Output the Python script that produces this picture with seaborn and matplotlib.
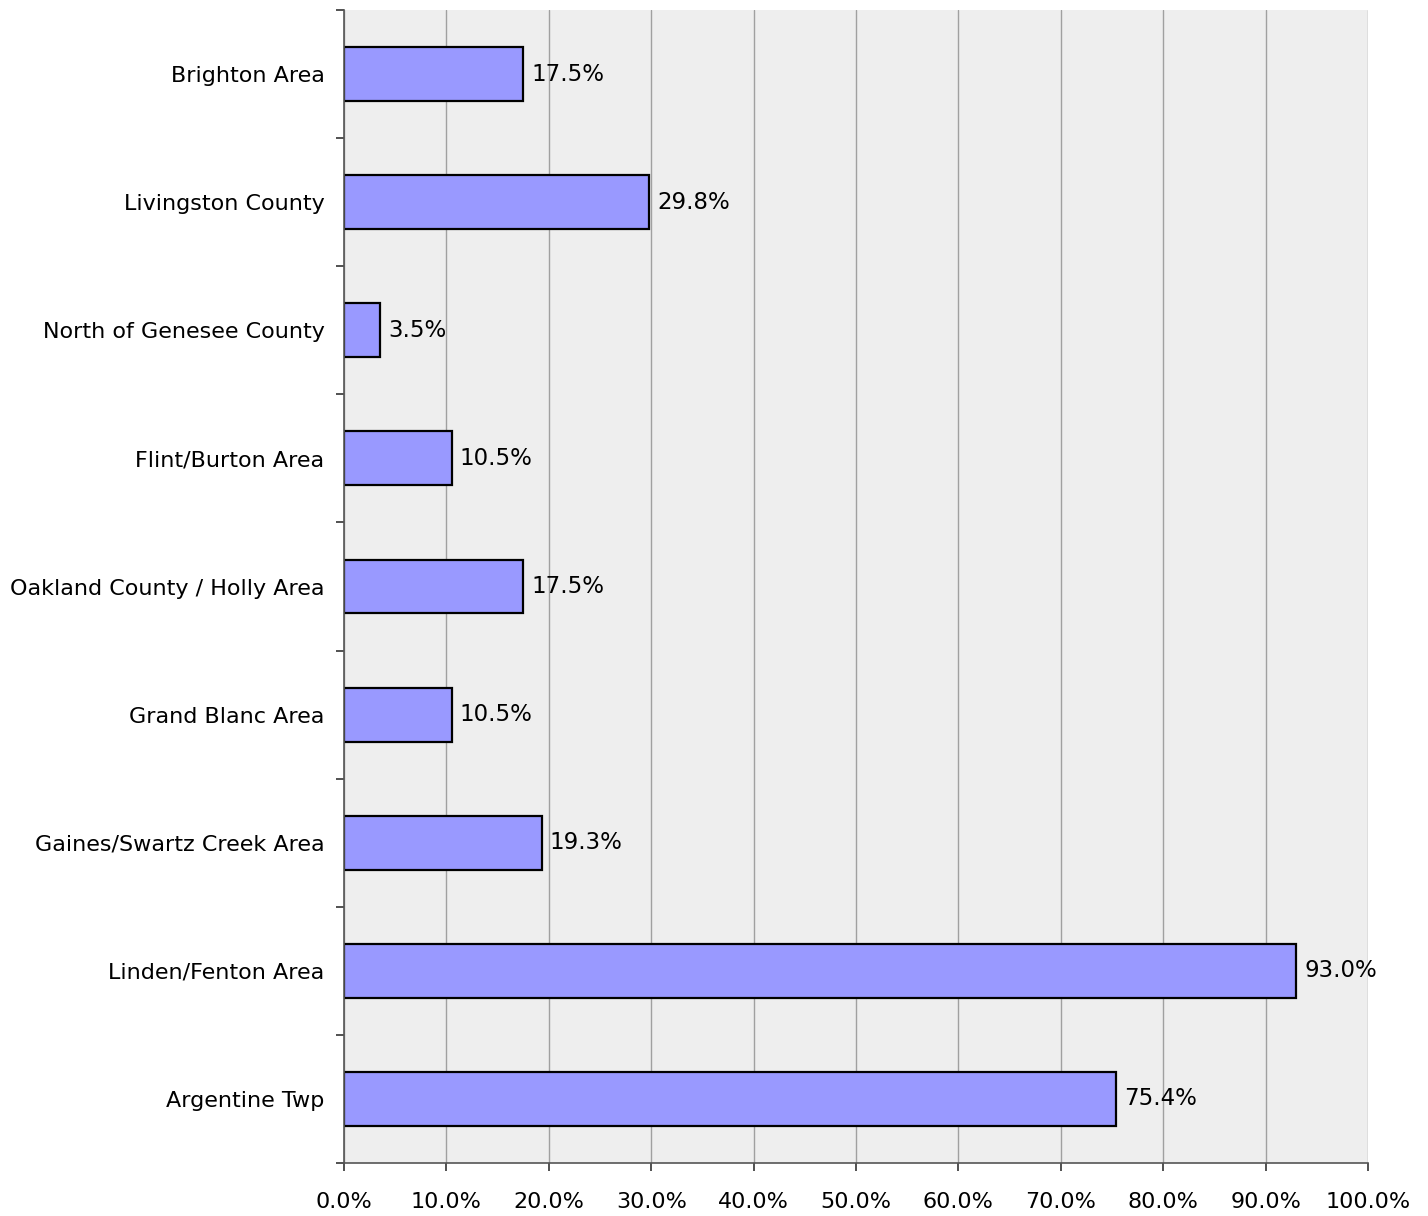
import matplotlib
matplotlib.use("Agg")
import matplotlib.pyplot as plt
import seaborn as sns
import pandas as pd
import numpy as np
from matplotlib.ticker import FixedLocator, PercentFormatter

categories = ["Brighton Area", "Livingston County", "North of Genesee County",
              "Flint/Burton Area", "Oakland County / Holly Area", "Grand Blanc Area",
              "Gaines/Swartz Creek Area", "Linden/Fenton Area", "Argentine Twp"]
values = [17.5, 29.8, 3.5, 10.5, 17.5, 10.5, 19.3, 93.0, 75.4]
x_ticks = [0, 10, 20, 30, 40, 50, 60, 70, 80, 90, 100]

sns.set_theme(style="white")
plt.rcParams['font.family'] = ['DejaVu Sans']

df = pd.DataFrame({"cat": categories, "val": values})

fig = plt.figure(figsize=(14.28, 12.16), dpi=100)
ax = fig.add_axes([344/1428, 1 - 1163/1216, (1368 - 344)/1428, (1163 - 10)/1216])
ax.set_facecolor("#EEEEEE")

sns.barplot(data=df, x="val", y="cat", orient="h", color="#9999FF",
            saturation=1, edgecolor="black", linewidth=1.6, width=0.42, ax=ax)

ax.set_xlim(0, 100)
ax.set_ylim(len(categories) - 0.5, -0.5)
ax.set_xticks(x_ticks)
ax.xaxis.set_major_formatter(PercentFormatter(decimals=1))
ax.grid(axis="x", color="#A0A0A0", linewidth=1)
ax.set_axisbelow(True)

ax.set_xlabel("")
ax.set_ylabel("")

for s in ["top", "right"]:
    ax.spines[s].set_visible(False)
for s in ["left", "bottom"]:
    ax.spines[s].set_color("#555555")
    ax.spines[s].set_linewidth(1.2)

ax.yaxis.set_minor_locator(FixedLocator(np.arange(-0.5, len(categories), 1)))
ax.tick_params(axis="y", which="major", length=0, pad=14, labelsize=16, colors="black")
ax.tick_params(axis="y", which="minor", length=6, width=1.2, color="#333333", left=True)
ax.tick_params(axis="x", which="major", length=6, width=1.2, color="#333333",
               bottom=True, pad=15, labelsize=16, labelcolor="black")

for i, v in enumerate(values):
    ax.text(v + 0.8, i, f"{v:.1f}%", va="center", ha="left", fontsize=16.5, color="black")

fig.savefig("out.png", dpi=100)
